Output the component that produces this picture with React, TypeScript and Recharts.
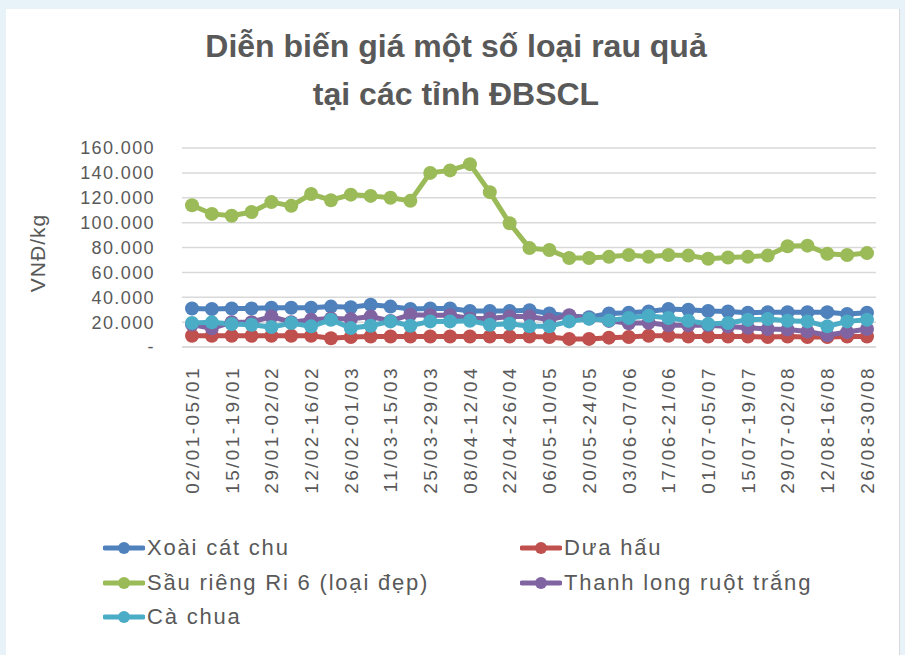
import { CartesianGrid, Line, LineChart, XAxis, YAxis } from "recharts";

const WEEKS = [
  "02/01-05/01", "08/01-12/01", "15/01-19/01", "22/01-26/01", "29/01-02/02",
  "05/02-09/02", "12/02-16/02", "19/02-23/02", "26/02-01/03", "04/03-08/03",
  "11/03-15/03", "18/03-22/03", "25/03-29/03", "01/04-05/04", "08/04-12/04",
  "15/04-19/04", "22/04-26/04", "29/04-03/05", "06/05-10/05", "13/05-17/05",
  "20/05-24/05", "27/05-31/05", "03/06-07/06", "10/06-14/06", "17/06-21/06",
  "24/06-28/06", "01/07-05/07", "08/07-12/07", "15/07-19/07", "22/07-26/07",
  "29/07-02/08", "05/08-09/08", "12/08-16/08", "19/08-23/08", "26/08-30/08",
];

const XOAI = [
  31000, 30500, 31000, 31000, 31500, 31500, 31500, 32500, 32000, 34000,
  32500, 30500, 31000, 31000, 29000, 29000, 29000, 29500, 27000, 25000,
  24000, 27000, 27500, 28500, 30500, 30000, 29000, 28500, 27500, 28000,
  28000, 28000, 28000, 26500, 27500,
];
const DUA_HAU = [
  9000, 9000, 9000, 9000, 9000, 9000, 9000, 7000, 8000, 8500,
  8500, 8500, 8500, 8500, 8500, 8500, 8500, 8500, 8000, 6500,
  6500, 7500, 8000, 9000, 9000, 8500, 8500, 8500, 8500, 8000,
  8500, 8000, 8000, 8500, 8500,
];
const SAU_RIENG = [
  114000, 107000, 105500, 108500, 116500, 113500, 123000, 118000, 122500, 121500,
  120000, 117500, 140000, 142000, 147000, 124500, 99500, 79500, 78000, 71500,
  71500, 72500, 74000, 72500, 74000, 73500, 71000, 72000, 72500, 73500,
  81000, 81500, 75000, 74000, 75500,
];
const THANH_LONG = [
  18000, 15000, 20000, 20000, 24500, 20000, 22000, 23000, 22500, 24500,
  21000, 26000, 25500, 25500, 23000, 23000, 24500, 24500, 22000, 25500,
  23000, 21000, 19000, 19500, 17500, 17500, 17500, 16500, 15500, 14500,
  14000, 12500, 9500, 12000, 14500,
];
const CA_CHUA = [
  19300, 19800, 18500, 17900, 16000, 19300, 16600, 21900, 15200, 17100,
  20600, 17100, 20600, 20600, 21100, 17900, 18700, 16600, 16600, 20600,
  22700, 21400, 23300, 25100, 23300, 21100, 18500, 19300, 21900, 22500,
  21100, 20600, 16600, 20600, 21900,
];
const Y_TICKS = [0, 20000, 40000, 60000, 80000, 100000, 120000, 140000, 160000];

const SERIES = [
  { key: "xoai", name: "Xoài cát chu", color: "#4F81BD", values: XOAI },
  { key: "duahau", name: "Dưa hấu", color: "#C0504D", values: DUA_HAU },
  { key: "saurieng", name: "Sầu riêng Ri 6 (loại đẹp)", color: "#9BBB59", values: SAU_RIENG },
  { key: "thanhlong", name: "Thanh long ruột trắng", color: "#8064A2", values: THANH_LONG },
  { key: "cachua", name: "Cà chua", color: "#4BACC6", values: CA_CHUA },
];

const LEGEND_POS = [
  { left: 103, top: 548 },
  { left: 520, top: 548 },
  { left: 103, top: 583 },
  { left: 520, top: 583 },
  { left: 103, top: 617 },
];

const data = WEEKS.map((week, i) => {
  const row: Record<string, string | number> = { week };
  SERIES.forEach((s) => (row[s.key] = s.values[i]));
  return row;
});

const TEXT = "#595959";
const FONT = "'Liberation Sans', Arial, sans-serif";

const fmt = (v: number) => (v === 0 ? "-" : String(v).replace(/\B(?=(\d{3})+(?!\d))/g, "."));

function WeekTick({ x, y, payload }: any) {
  const ty = y + 19;
  return (
    <text
      x={x}
      y={ty}
      transform={`rotate(-90, ${x}, ${ty})`}
      textAnchor="end"
      dy="0.36em"
      fill={TEXT}
      fontSize={19}
      letterSpacing={2.4}
      fontFamily={FONT}
    >
      {payload.value}
    </text>
  );
}

export default function App() {
  return (
    <div style={{ position: "absolute", left: 0, top: 0, width: 905, height: 655, background: "#e8f2f9", overflow: "hidden" }}>
      <div
        style={{
          position: "absolute",
          left: 6,
          top: 9,
          width: 893,
          height: 660,
          background: "#fff",
          borderRight: "1px solid #d9d9d9",
        }}
      />
      <div
        style={{
          position: "absolute",
          left: 0,
          top: 22,
          width: 912,
          textAlign: "center",
          fontFamily: FONT,
          fontWeight: "bold",
          fontSize: 32,
          lineHeight: "48px",
          color: TEXT,
        }}
      >
        Diễn biến giá một số loại rau quả
        <br />
        tại các tỉnh ĐBSCL
      </div>
      <div
        style={{
          position: "absolute",
          left: 38,
          top: 253,
          transform: "translate(-50%, -50%) rotate(-90deg)",
          fontFamily: FONT,
          fontSize: 21,
          letterSpacing: 1,
          color: TEXT,
          whiteSpace: "nowrap",
        }}
      >
        VNĐ/kg
      </div>
      <div style={{ position: "absolute", left: 0, top: 0 }}>
        <LineChart width={905} height={655} data={data} margin={{ top: 148, right: 29, left: 0, bottom: 0 }}>
          <CartesianGrid vertical={false} stroke="#d9d9d9" strokeWidth={1.5} />
          <XAxis
            dataKey="week"
            interval={1}
            height={308}
            tickLine={false}
            tickSize={0}
            tickMargin={0}
            axisLine={{ stroke: "#d9d9d9", strokeWidth: 1.5 }}
            padding={{ left: 10, right: 9 }}
            tick={<WeekTick />}
          />
          <YAxis
            width={182}
            domain={[0, 160000]}
            ticks={Y_TICKS}
            interval={0}
            tickFormatter={fmt}
            axisLine={false}
            tickLine={false}
            tickSize={0}
            tickMargin={27}
            tick={{ fill: TEXT, fontSize: 18, fontFamily: FONT, letterSpacing: 1.4 }}
          />
          {SERIES.map((s) => (
            <Line
              key={s.key}
              type="linear"
              dataKey={s.key}
              name={s.name}
              stroke={s.color}
              strokeWidth={5}
              dot={{ r: 7, fill: s.color, stroke: "none" }}
              activeDot={false}
              isAnimationActive={false}
            />
          ))}
        </LineChart>
      </div>
      {SERIES.map((s, i) => (
        <div
          key={s.key}
          style={{
            position: "absolute",
            left: LEGEND_POS[i].left,
            top: LEGEND_POS[i].top,
            transform: "translateY(-50%)",
            display: "flex",
            alignItems: "center",
            fontFamily: FONT,
            fontSize: 22,
            letterSpacing: 1.8,
            color: TEXT,
            whiteSpace: "nowrap",
          }}
        >
          <svg width={42} height={16} style={{ marginRight: 2 }}>
            <line x1={2} y1={8} x2={40} y2={8} stroke={s.color} strokeWidth={5} strokeLinecap="round" />
            <circle cx={21} cy={8} r={6} fill={s.color} />
          </svg>
          {s.name}
        </div>
      ))}
    </div>
  );
}
